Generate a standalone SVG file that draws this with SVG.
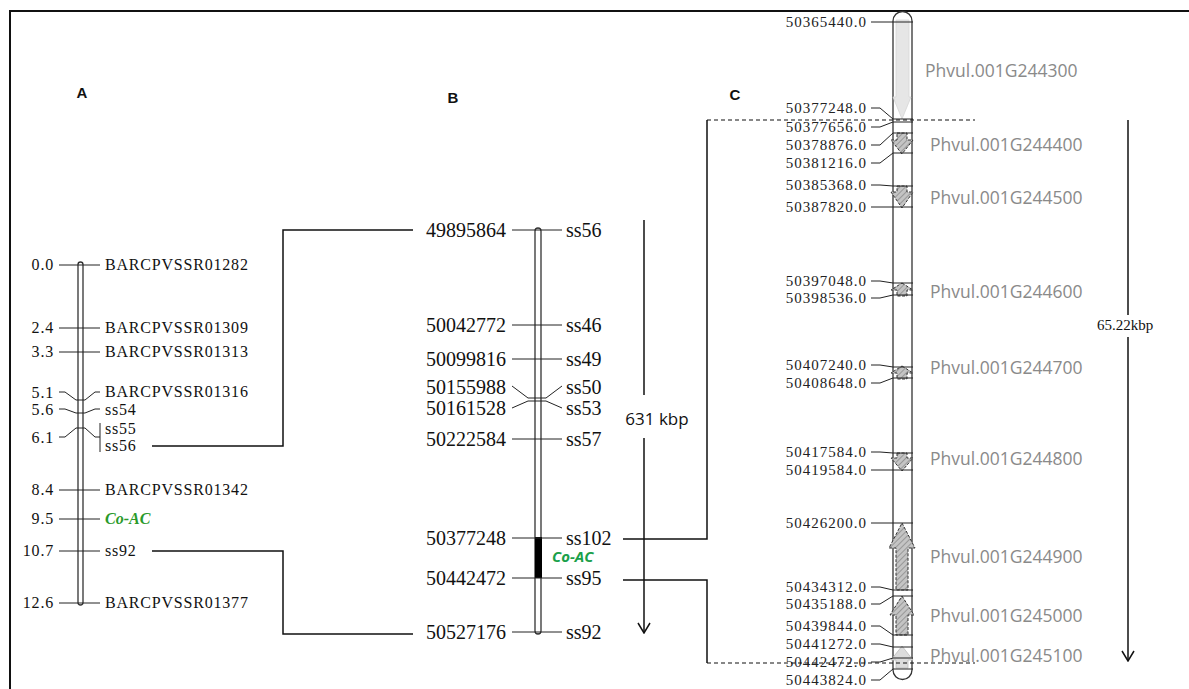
<svg xmlns="http://www.w3.org/2000/svg" width="1189" height="689" viewBox="0 0 1189 689">
<style>
.ln{stroke:#111;stroke-width:1.3;fill:none}
.tk{stroke:#222;stroke-width:1;fill:none}
.con{stroke:#111;stroke-width:1.5;fill:none}
.dash{stroke:#111;stroke-width:1.2;fill:none;stroke-dasharray:4 3}
.chr{fill:#fff;stroke:#333;stroke-width:1.3}
.sA{font-family:"Liberation Serif",serif;font-size:16px;letter-spacing:0.8px;fill:#111}
.sB{font-family:"Liberation Serif",serif;font-size:20px;fill:#111}
.sC{font-family:"Liberation Serif",serif;font-size:15px;letter-spacing:1px;fill:#222}
.gn{font-family:"Open Sans",sans-serif;font-size:17.5px;fill:#8a8a8a}
.pl{font-family:"Liberation Sans",Arial,sans-serif;font-size:15px;font-weight:bold;fill:#111}
.end{text-anchor:end}
.gene{fill:url(#hatch);stroke:#333;stroke-width:1;stroke-dasharray:3 1.5}
</style>
<defs>
<pattern id="hatch" width="4" height="4" patternUnits="userSpaceOnUse" patternTransform="rotate(45)">
<rect width="4" height="4" fill="#c4c4c4"/>
<line x1="0" y1="0" x2="0" y2="4" stroke="#8a8a8a" stroke-width="1.5"/>
</pattern>
<marker id="arr" viewBox="-11 -7 12 14" refX="0" refY="0" markerWidth="12" markerHeight="14" orient="auto" markerUnits="userSpaceOnUse">
<path d="M-10,-6 L0,0 L-10,6" fill="none" stroke="#111" stroke-width="1.5"/>
</marker>
</defs>
<rect width="1189" height="689" fill="#fff"/>
<g id="frame"><path d="M10,689 V11 H1189" fill="none" stroke="#111" stroke-width="2"/></g>
<g id="panel-labels">
<text class="pl" x="82" y="98" text-anchor="middle">A</text>
<text class="pl" x="453" y="103" text-anchor="middle">B</text>
<text class="pl" x="735" y="100" text-anchor="middle">C</text>
</g>
<g id="chrA">
<rect class="chr" x="78" y="262" width="5" height="343" rx="2.5"/>
<path class="tk" d="M59,265H100 M59,328H100 M59,352H100 M59,490H100 M59,519H100 M59,551H100 M59,603H100"/>
<path class="tk" d="M59,392 L65,392 L76,400 L85,400 L95,392 L100,392"/>
<path class="tk" d="M59,409 L65,409 L76,413 L85,413 L95,409 L100,409"/>
<path class="tk" d="M59,437 L65,437 L76,428 L85,428 L95,437 L100,437 M100,423 V452"/>
<text class="sA end" x="54" y="270">0.0</text>
<text class="sA end" x="54" y="333">2.4</text>
<text class="sA end" x="54" y="357">3.3</text>
<text class="sA end" x="54" y="398">5.1</text>
<text class="sA end" x="54" y="415">5.6</text>
<text class="sA end" x="54" y="443">6.1</text>
<text class="sA end" x="54" y="495">8.4</text>
<text class="sA end" x="54" y="524">9.5</text>
<text class="sA end" x="54" y="556">10.7</text>
<text class="sA end" x="54" y="608">12.6</text>
<text class="sA" x="105" y="270">BARCPVSSR01282</text>
<text class="sA" x="105" y="333">BARCPVSSR01309</text>
<text class="sA" x="105" y="357">BARCPVSSR01313</text>
<text class="sA" x="105" y="397">BARCPVSSR01316</text>
<text class="sA" x="105" y="415">ss54</text>
<text class="sA" x="105" y="434">ss55</text>
<text class="sA" x="105" y="451">ss56</text>
<text class="sA" x="105" y="495">BARCPVSSR01342</text>
<text x="105" y="524" font-family="Liberation Serif,serif" font-size="16" font-weight="bold" font-style="italic" fill="#2a9a2a">Co-AC</text>
<text class="sA" x="105" y="556">ss92</text>
<text class="sA" x="105" y="608">BARCPVSSR01377</text>
</g>
<g id="chrB">
<rect class="chr" x="535" y="228" width="6" height="406" rx="3"/>
<rect x="535" y="537" width="7" height="41" fill="#000"/>
<path class="tk" d="M512,230H562 M512,325H562 M512,359H562 M512,439H562 M512,538H562 M512,578H562 M512,632H562"/>
<path class="tk" d="M512,386 L528,398 L546,398 L562,386 M512,408 L528,401 L546,401 L562,408"/>
<text class="sB end" x="506" y="237">49895864</text>
<text class="sB end" x="506" y="332">50042772</text>
<text class="sB end" x="506" y="366">50099816</text>
<text class="sB end" x="506" y="394">50155988</text>
<text class="sB end" x="506" y="415">50161528</text>
<text class="sB end" x="506" y="446">50222584</text>
<text class="sB end" x="506" y="545">50377248</text>
<text class="sB end" x="506" y="585">50442472</text>
<text class="sB end" x="506" y="639">50527176</text>
<text class="sB" x="566" y="237">ss56</text>
<text class="sB" x="566" y="332">ss46</text>
<text class="sB" x="566" y="366">ss49</text>
<text class="sB" x="566" y="394">ss50</text>
<text class="sB" x="566" y="415">ss53</text>
<text class="sB" x="566" y="446">ss57</text>
<text class="sB" x="566" y="545">ss102</text>
<text class="sB" x="566" y="585">ss95</text>
<text class="sB" x="566" y="639">ss92</text>
<text x="552" y="562" font-family="Open Sans,sans-serif" font-size="15" font-weight="bold" font-style="italic" fill="#1aa04a">Co-AC</text>
</g>
<g id="chrC">
<path class="chr" d="M893,21 A9.5,9.5 0 0 1 912,21 L912,670 A9.5,9.5 0 0 1 893,670 Z" stroke-width="1.5"/>
<g id="genes">
<polygon points="896,20 909,20 909,97 911,97 902,119 893,97 896,97" fill="#e6e6e6" stroke="#d6d6d6" stroke-width="0.8"/>
<polygon class="gene" points="897,133 907,133 907,140 913,140 902,154 891,140 897,140"/>
<polygon class="gene" points="897,186 907,186 907,192 913,192 902,208 891,192 897,192"/>
<polygon class="gene" points="902,283 913,290 907,290 907,296 897,296 897,290 891,290"/>
<polygon class="gene" points="902,366 913,373 907,373 907,379 897,379 897,373 891,373"/>
<polygon class="gene" points="897,453 907,453 907,458 913,458 902,471 891,458 897,458"/>
<polygon class="gene" points="902,523 915,548 908,548 908,590 896,590 896,548 889,548"/>
<polygon class="gene" points="902,596 914,615 908,615 908,635 896,635 896,615 890,615"/>
<polygon points="902,646 913,660 908,660 908,668 896,668 896,660 891,660" fill="#dcdcdc" stroke="#bbb" stroke-width="0.8"/>
</g>
<path class="tk" d="M871,22 H913 M871,108 L880,108 L893,119 H913 M871,127 L880,127 L893,122 H913 M871,145 L880,145 L893,133 H913 M871,163 L880,163 L893,153 H913 M871,185 L880,185 L893,186 H913 M871,207 L880,207 L893,207 H913 M871,281 L880,281 L893,283 H913 M871,298 L880,298 L893,295 H913 M871,365 L880,365 L893,367 H913 M871,383 L880,383 L893,378 H913 M871,452 L880,452 L893,453 H913 M871,470 H913 M871,523 H913 M871,587 L880,587 L893,590 H913 M871,604 L880,604 L893,596 H913 M871,626 L880,626 L893,635 H913 M871,644 L880,644 L893,647 H913 M871,662 L880,662 L893,658 H913 M871,680 L880,680 L893,669 H913"/>
<text class="sC end" x="867" y="27">50365440.0</text>
<text class="sC end" x="867" y="113">50377248.0</text>
<text class="sC end" x="867" y="132">50377656.0</text>
<text class="sC end" x="867" y="150">50378876.0</text>
<text class="sC end" x="867" y="168">50381216.0</text>
<text class="sC end" x="867" y="190">50385368.0</text>
<text class="sC end" x="867" y="212">50387820.0</text>
<text class="sC end" x="867" y="286">50397048.0</text>
<text class="sC end" x="867" y="303">50398536.0</text>
<text class="sC end" x="867" y="370">50407240.0</text>
<text class="sC end" x="867" y="388">50408648.0</text>
<text class="sC end" x="867" y="457">50417584.0</text>
<text class="sC end" x="867" y="475">50419584.0</text>
<text class="sC end" x="867" y="528">50426200.0</text>
<text class="sC end" x="867" y="592">50434312.0</text>
<text class="sC end" x="867" y="609">50435188.0</text>
<text class="sC end" x="867" y="631">50439844.0</text>
<text class="sC end" x="867" y="649">50441272.0</text>
<text class="sC end" x="867" y="667">50442472.0</text>
<text class="sC end" x="867" y="685">50443824.0</text>
<text class="gn" x="925" y="77">Phvul.001G244300</text>
<text class="gn" x="930" y="151">Phvul.001G244400</text>
<text class="gn" x="930" y="204">Phvul.001G244500</text>
<text class="gn" x="930" y="298">Phvul.001G244600</text>
<text class="gn" x="930" y="374">Phvul.001G244700</text>
<text class="gn" x="930" y="465">Phvul.001G244800</text>
<text class="gn" x="930" y="563">Phvul.001G244900</text>
<text class="gn" x="930" y="622">Phvul.001G245000</text>
<text class="gn" x="930" y="662">Phvul.001G245100</text>
</g>
<g id="connectors">
<path class="con" d="M152,446 H283 V230 H413"/>
<path class="con" d="M152,551 H283 V634 H413"/>
<path class="con" d="M623,539 H707 V120"/>
<path class="con" d="M623,580 H707 V663"/>
<path class="dash" d="M707,120 H975"/>
<path class="dash" d="M707,663 H975"/>
<path class="con" d="M644,220 V395"/>
<path class="con" d="M644,438 V633" marker-end="url(#arr)"/>
<text x="657" y="425" text-anchor="middle" font-family="Open Sans,sans-serif" font-size="17" fill="#111">631 kbp</text>
<path class="con" d="M1128,120 V315"/>
<path class="con" d="M1128,337 V661" marker-end="url(#arr)"/>
<text x="1125" y="330" text-anchor="middle" font-family="Liberation Serif,serif" font-size="15" fill="#111">65.22kbp</text>
</g>
</svg>
